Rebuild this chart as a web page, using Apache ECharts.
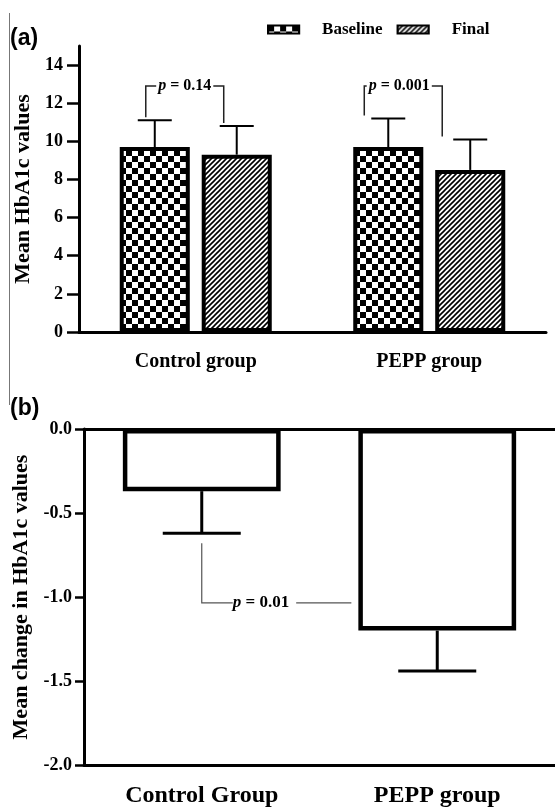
<!DOCTYPE html>
<html>
<head>
<meta charset="utf-8">
<script src="https://cdn.jsdelivr.net/npm/echarts@6/dist/echarts.min.js"></script>
<style>
html,body{margin:0;padding:0;background:#fff;}
#chart{width:555px;height:810px;}
</style>
</head>
<body>
<div id="chart"></div>
<script>
// ---- Data ----
const topCategories = ['Control group', 'PEPP group'];
const baselineMean = [9.7, 9.7];
const baselineUpper = [11.1, 11.2];
const finalMean = [9.3, 8.5];
const finalUpper = [10.8, 10.1];
const topPValues = ['0.14', '0.001'];
const topYTicks = [0, 2, 4, 6, 8, 10, 12, 14];

const bottomCategories = ['Control Group', 'PEPP group'];
const changeMean = [-0.37, -1.2];
const changeLower = [-0.62, -1.44];
const bottomPValue = '0.01';

// ---- Patterns ----
function checker() {
  const c = document.createElement('canvas');
  c.width = 12; c.height = 12;
  const g = c.getContext('2d');
  g.fillStyle = '#fff'; g.fillRect(0, 0, 12, 12);
  g.fillStyle = '#000';
  g.fillRect(0, 0, 6, 6); g.fillRect(6, 6, 6, 6);
  return c;
}
function hatch() {
  const s = 5;
  const c = document.createElement('canvas');
  c.width = s; c.height = s;
  const g = c.getContext('2d');
  g.fillStyle = '#fff'; g.fillRect(0, 0, s, s);
  g.strokeStyle = '#000'; g.lineWidth = 1.6;
  g.beginPath();
  g.moveTo(-1, s + 1); g.lineTo(s + 1, -1);
  g.moveTo(-1, 1); g.lineTo(1, -1);
  g.moveTo(s - 1, s + 1); g.lineTo(s + 1, s - 1);
  g.stroke();
  return c;
}

const SERIF = "'Liberation Serif','DejaVu Serif',serif";
const BAR_W_TOP = 0.30, BAR_GAP_TOP = 0.17;
const bracketLevel = 12.9;
const bracketOffsets = [{dl: -9, dr: -13, dt: 0}, {dl: -24, dr: -28, dt: -4}];
const BAR_W_BOTTOM = 0.67;

const chart = echarts.init(document.getElementById('chart'), null, {renderer: 'canvas'});

function topBarOffset(api) {
  const band = api.size([1, 0])[0];
  const w = band * BAR_W_TOP;
  return (w + w * BAR_GAP_TOP) / 2;
}

const option = {
  backgroundColor: '#fff',
  animation: false,
  textStyle: {fontFamily: SERIF, color: '#000'},
  legend: {
    data: ['Baseline', 'Final'],
    left: 262, top: 16,
    itemWidth: 31, itemHeight: 8, itemGap: 14,
    icon: 'rect',
    itemStyle: {borderColor: '#000', borderWidth: 2.2},
    textStyle: {fontFamily: SERIF, fontWeight: 'bold', fontSize: 17, color: '#000', padding: [0, 0, 0, 18]}
  },
  grid: [
    {left: 79, right: 9, top: 46, bottom: 478},
    {left: 84, right: 0, top: 429, bottom: 45}
  ],
  xAxis: [
    {
      type: 'category', gridIndex: 0, data: topCategories,
      axisLine: {lineStyle: {color: '#000', width: 3}},
      axisTick: {alignWithLabel: true, length: 7, lineStyle: {color: '#000', width: 2.5}},
      axisLabel: {color: '#000', fontFamily: SERIF, fontWeight: 'bold', fontSize: 20, margin: 20}
    },
    {
      type: 'category', gridIndex: 1, data: bottomCategories, position: 'bottom',
      axisLine: {onZero: false, lineStyle: {color: '#000', width: 3}},
      axisTick: {alignWithLabel: true, length: 10, lineStyle: {color: '#000', width: 2.5}},
      axisLabel: {color: '#000', fontFamily: SERIF, fontWeight: 'bold', fontSize: 24, margin: 19}
    },
    {
      type: 'category', gridIndex: 1, data: bottomCategories, position: 'top',
      axisLine: {onZero: false, lineStyle: {color: '#000', width: 3}},
      axisTick: {show: false}, axisLabel: {show: false}
    }
  ],
  yAxis: [
    {
      type: 'value', gridIndex: 0, min: 0, max: 15,
      name: 'Mean HbA1c values', nameLocation: 'middle', nameRotate: 90, nameGap: 44,
      nameTextStyle: {fontFamily: SERIF, fontWeight: 'bold', fontSize: 22, color: '#000'},
      axisLine: {show: true, lineStyle: {color: '#000', width: 3}},
      axisTick: {show: true, length: 12, customValues: topYTicks, lineStyle: {color: '#000', width: 2.5}},
      axisLabel: {customValues: topYTicks, color: '#000', fontFamily: SERIF, fontWeight: 'bold', fontSize: 18, margin: 16},
      splitLine: {show: false}
    },
    {
      type: 'value', gridIndex: 1, min: -2, max: 0, interval: 0.5,
      name: 'Mean change in HbA1c values', nameLocation: 'middle', nameRotate: 90, nameGap: 51,
      nameTextStyle: {fontFamily: SERIF, fontWeight: 'bold', fontSize: 22, color: '#000'},
      axisLine: {show: true, lineStyle: {color: '#000', width: 3}},
      axisTick: {show: true, length: 9, lineStyle: {color: '#000', width: 2.5}},
      axisLabel: {color: '#000', fontFamily: SERIF, fontWeight: 'bold', fontSize: 18, margin: 12,
        formatter: v => v.toFixed(1)},
      splitLine: {show: false}
    }
  ],
  series: [
    {
      name: 'Baseline', type: 'bar', xAxisIndex: 0, yAxisIndex: 0, data: baselineMean,
      barWidth: (BAR_W_TOP * 100) + '%', barGap: (BAR_GAP_TOP * 100) + '%',
      itemStyle: {color: {image: checker(), repeat: 'repeat'}, borderColor: '#000', borderWidth: 4},
      z: 3
    },
    {
      name: 'Final', type: 'bar', xAxisIndex: 0, yAxisIndex: 0, data: finalMean,
      barWidth: (BAR_W_TOP * 100) + '%', barGap: (BAR_GAP_TOP * 100) + '%',
      itemStyle: {color: {image: hatch(), repeat: 'repeat'}, borderColor: '#000', borderWidth: 4},
      z: 3
    },
    {
      type: 'custom', xAxisIndex: 0, yAxisIndex: 0, z: 2, silent: true,
      data: topCategories.map((c, i) => [i, baselineMean[i], baselineUpper[i], finalMean[i], finalUpper[i]]),
      encode: {x: 0, y: [1, 2, 3, 4]},
      renderItem: function (params, api) {
        const i = api.value(0);
        const off = topBarOffset(api);
        const cx = api.coord([i, 0])[0];
        const half = 17;
        const children = [];
        [[-off, api.value(1), api.value(2)], [off, api.value(3), api.value(4)]].forEach(function (b) {
          const x = cx + b[0];
          const y0 = api.coord([i, b[1]])[1];
          const y1 = api.coord([i, b[2]])[1];
          children.push({type: 'line', shape: {x1: x, y1: y0, x2: x, y2: y1}, style: {stroke: '#000', lineWidth: 2}});
          children.push({type: 'line', shape: {x1: x - half, y1: y1, x2: x + half, y2: y1}, style: {stroke: '#000', lineWidth: 2}});
        });
        return {type: 'group', children: children};
      }
    },
    {
      type: 'custom', xAxisIndex: 0, yAxisIndex: 0, z: 4, silent: true,
      data: topCategories.map((c, i) => [i, baselineUpper[i], finalUpper[i]]),
      encode: {x: 0, y: [1, 2]},
      renderItem: function (params, api) {
        const i = api.value(0);
        const o = bracketOffsets[params.dataIndex];
        const off = topBarOffset(api);
        const cx = api.coord([i, 0])[0];
        const xL = cx - off + o.dl, xR = cx + off + o.dr;
        const yT = api.coord([i, bracketLevel])[1];
        const yL = api.coord([i, api.value(1)])[1] - 3;
        const yR = api.coord([i, api.value(2)])[1] - 3;
        return {type: 'group', children: [
          {type: 'polyline', shape: {points: [[xL, yL], [xL, yT], [xR, yT], [xR, yR]]},
            style: {stroke: '#222', lineWidth: 1.5, fill: null}},
          {type: 'text', x: (xL + xR) / 2 + o.dt, y: yT, z2: 10,
            style: {text: '{i|p} = ' + topPValues[params.dataIndex], align: 'center', verticalAlign: 'middle',
              font: 'bold 16px ' + SERIF, fill: '#000', backgroundColor: '#fff', padding: [0, 2],
              rich: {i: {fontStyle: 'italic', fontWeight: 'bold', fontSize: 16, fontFamily: SERIF}}}}
        ]};
      }
    },
    {
      name: 'Change', type: 'bar', xAxisIndex: 1, yAxisIndex: 1, data: changeMean,
      barWidth: (BAR_W_BOTTOM * 100) + '%',
      itemStyle: {color: '#fff', borderColor: '#000', borderWidth: 4.5},
      z: 3
    },
    {
      type: 'custom', xAxisIndex: 1, yAxisIndex: 1, z: 2, silent: true,
      data: bottomCategories.map((c, i) => [i, changeMean[i], changeLower[i]]),
      encode: {x: 0, y: [1, 2]},
      renderItem: function (params, api) {
        const i = api.value(0);
        const x = api.coord([i, 0])[0];
        const y0 = api.coord([i, api.value(1)])[1];
        const y1 = api.coord([i, api.value(2)])[1];
        const half = 39;
        return {type: 'group', children: [
          {type: 'line', shape: {x1: x, y1: y0, x2: x, y2: y1}, style: {stroke: '#000', lineWidth: 3}},
          {type: 'line', shape: {x1: x - half, y1: y1, x2: x + half, y2: y1}, style: {stroke: '#000', lineWidth: 3}}
        ]};
      }
    },
    {
      type: 'custom', xAxisIndex: 1, yAxisIndex: 1, z: 4, silent: true,
      data: [[0, changeLower[0], changeLower[0] - 0.06, changeLower[0] - 0.415]],
      encode: {x: 0, y: [1, 2, 3]},
      renderItem: function (params, api) {
        const xC = api.coord([0, 0])[0];
        const band = api.size([1, 0])[0];
        const xP = api.coord([1, 0])[0] - band * BAR_W_BOTTOM / 2 - 7;
        const yTop = api.coord([0, api.value(2)])[1];
        const yH = api.coord([0, api.value(3)])[1];
        return {type: 'group', children: [
          {type: 'polyline', shape: {points: [[xC, yTop], [xC, yH], [xP, yH]]},
            style: {stroke: '#555', lineWidth: 1.2, fill: null}},
          {type: 'text', x: xC + 31, y: yH, z2: 10,
            style: {text: '{i|p} = ' + bottomPValue, align: 'left', verticalAlign: 'middle',
              font: 'bold 17px ' + SERIF, fill: '#000', backgroundColor: '#fff', padding: [0, 7, 0, 0],
              rich: {i: {fontStyle: 'italic', fontWeight: 'bold', fontSize: 17, fontFamily: SERIF}}}}
        ]};
      }
    }
  ],
  graphic: [
    {type: 'line', shape: {x1: 9.5, y1: 13, x2: 9.5, y2: 405}, style: {stroke: '#777', lineWidth: 1}},
    {type: 'text', left: 10, top: 27, style: {text: '(a)', font: 'bold 23px "Liberation Sans", Arial, sans-serif', fill: '#000'}},
    {type: 'text', left: 10, top: 397, style: {text: '(b)', font: 'bold 23px "Liberation Sans", Arial, sans-serif', fill: '#000'}}
  ]
};
chart.setOption(option);
</script>
</body>
</html>
